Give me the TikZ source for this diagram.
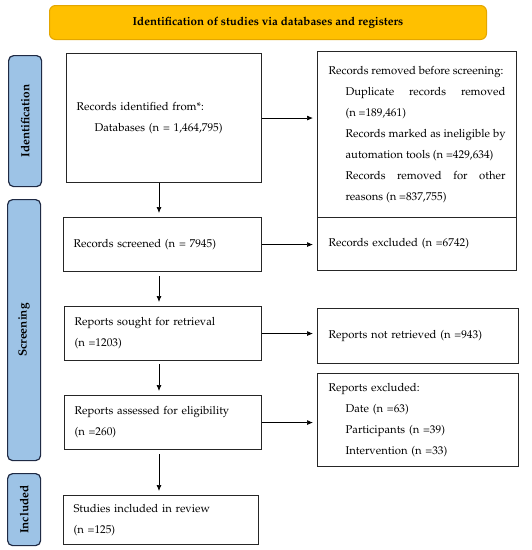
\documentclass[tikz,border=0pt]{standalone}
\usepackage[T1]{fontenc}
\usepackage{mathpazo}
\usetikzlibrary{arrows.meta,calc}
\definecolor{bannerfill}{HTML}{FFC000}
\definecolor{bannerline}{HTML}{E3A600}
\definecolor{sidefill}{HTML}{9DC3E6}
\definecolor{sideline}{HTML}{1F2A44}
\tikzset{
  box/.style={draw=black!85, line width=1.1pt, anchor=north west, inner xsep=10pt, inner ysep=0pt,
    align=left, font=\fontsize{11.3}{21}\selectfont},
  rbox/.style={box, inner xsep=11pt},
  sidebox/.style={draw=sideline, fill=sidefill, rounded corners=5pt, line width=1.2pt,
    anchor=north west, inner sep=0pt},
  sidelabel/.style={rotate=90, font=\fontsize{11.8}{13}\selectfont\bfseries},
  arr/.style={-{Latex[length=6pt,width=5pt]}, line width=0.7pt, shorten >=4pt}
}
\begin{document}
\begin{tikzpicture}[x=1pt,y=-1pt]
\useasboundingbox (0,0) rectangle (532,550);
\node[draw=bannerline, fill=bannerfill, rounded corners=6pt, line width=1pt, anchor=north west,
  minimum width=437pt, minimum height=34pt, inner sep=0pt, font=\fontsize{11.6}{13}\selectfont\bfseries]
  (title) at (49,5) {Identification of studies via databases and registers};

\node[sidebox, minimum width=33pt, minimum height=131pt] (sid) at (8,55) {};
\node[sidelabel] (sidl) at (sid.center) {Identification};
\node[sidebox, minimum width=33pt, minimum height=261pt] (sscr) at (7,199) {};
\node[sidelabel] (sscrl) at (sscr.center) {Screening};
\node[sidebox, minimum width=33pt, minimum height=72pt] (sinc) at (7,473) {};
\node[sidelabel] (sincl) at (sinc.center) {Included};

\node[box, text width=175pt, minimum height=129pt] (ident) at (66,53)
  {Records identified from*:\\\hspace*{18pt}Databases (n = 1,464,795)};
\node[box, text width=178pt, minimum height=54pt] (screened) at (63,217)
  {Records screened (n = 7945)};
\node[box, text width=177pt, minimum height=54pt] (sought) at (64,306)
  {Reports sought for retrieval\\(n =1203)};
\node[box, text width=177pt, minimum height=54pt] (assessed) at (64,395)
  {Reports assessed for eligibility\\(n =260)};
\node[box, text width=175pt, minimum height=49pt] (included) at (63,495)
  {Studies included in review\\(n =125)};

\node[rbox, align=justify, text width=177pt, minimum height=166pt] (removed) at (317,51)
  {\mbox{Records removed before screening:}\par
   \leftskip=17pt Duplicate records removed\linebreak (n =189,461)\par
   Records marked as ineligible by\linebreak automation tools (n =429,634)\par
   Records removed for other\linebreak reasons (n =837,755)\par};
\node[rbox, text width=177pt, minimum height=53pt] (excluded) at (317,217)
  {Records excluded (n =6742)};
\node[rbox, text width=179pt, minimum height=55pt] (notretr) at (317,308)
  {Reports not retrieved (n =943)};
\node[rbox, text width=179pt, minimum height=93pt] (repexcl) at (317,373)
  {Reports excluded:\\\hspace*{17pt}Date (n =63)\\\hspace*{17pt}Participants (n =39)\\\hspace*{17pt}Intervention (n =33)};

\coordinate (ax) at (159,0);
\draw[arr] (ident.east) -- (ident.east -| removed.west);
\draw[arr] (screened.east) -- (screened.east -| excluded.west);
\draw[arr] (sought.east) -- (sought.east -| notretr.west);
\draw[arr] (assessed.east) -- (assessed.east -| repexcl.west);
\draw[arr] (ident.south -| ax) -- (screened.north -| ax);
\draw[arr] ([yshift=-4pt]screened.south -| ax) -- (sought.north -| ax);
\draw[arr] ([yshift=-3pt]sought.south -| ax) -- (assessed.north -| ax);
\draw[arr] ([yshift=-4pt]assessed.south -| ax) -- (included.north -| ax);
\end{tikzpicture}
\end{document}
